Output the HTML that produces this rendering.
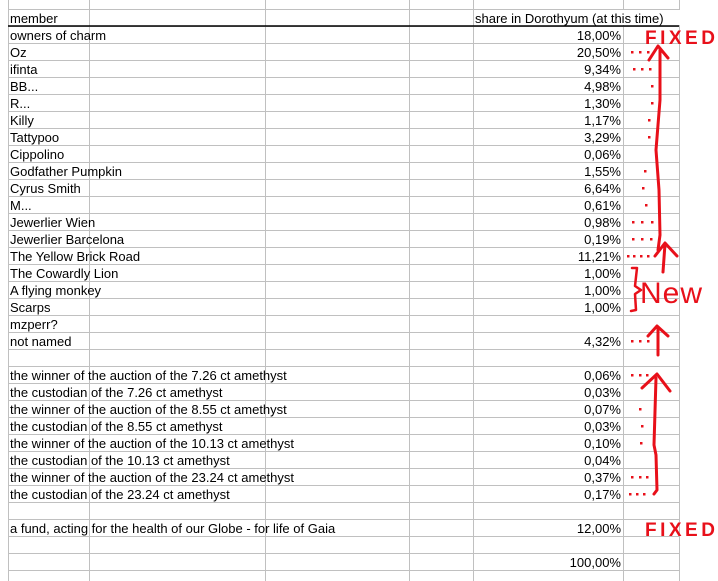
<!DOCTYPE html>
<html><head><meta charset="utf-8"><style>
html,body{margin:0;padding:0;background:#fff;}
svg{display:block;font-family:"Liberation Sans",Arial,sans-serif;}
</style></head><body>
<svg id="sheet" width="718" height="581" viewBox="0 0 718 581" xmlns="http://www.w3.org/2000/svg">
<g id="grid"></g>
<g id="cells" font-size="13" fill="#000"></g>
<g id="notes" stroke="#e8101a" fill="none" stroke-width="3" stroke-linecap="round" stroke-linejoin="round">
  <path d="M658 250 L660 235 L659 190 L656 150 L660 100 L660 50 M649 60 L658 46 L668 58"/>
  <path d="M663 272 L665 244 M655 256 L665 243 L677 256"/>
  <path d="M658 355 L658 328 M648 336 L657 326 L668 336"/>
  <path d="M654 494 L657 490 L656 455 L654 445 L656 378 M642 388 L657 374 L670 391"/>
  <path stroke-width="2.5" d="M632 268 L637 268 L635 286 L641 290 L635 294 L636 310 L631 311"/>
</g>
<g id="dots" fill="#e8101a"></g>
<g fill="#e8101a" font-weight="bold">
  <text x="645" y="44" font-size="19" letter-spacing="3.5">FIXED</text>
  <text x="640" y="303" font-size="30" letter-spacing="1" font-weight="normal">New</text>
  <text x="645" y="536" font-size="19" letter-spacing="3.5">FIXED</text>
</g>
</svg>
<script>
const labels = ["owners of charm","Oz","ifinta","BB...","R...","Killy","Tattypoo","Cippolino","Godfather Pumpkin","Cyrus Smith","M...","Jewerlier Wien","Jewerlier Barcelona","The Yellow Brick Road","The Cowardly Lion","A flying monkey","Scarps","mzperr?","not named","",
"the winner of the auction of the 7.26 ct amethyst","the custodian of the 7.26 ct amethyst","the winner of the auction of the 8.55 ct amethyst","the custodian of the 8.55 ct amethyst","the winner of the auction of the 10.13 ct amethyst","the custodian of the 10.13 ct amethyst","the winner of the auction of the 23.24 ct amethyst","the custodian of the 23.24 ct amethyst","",
"a fund, acting for the health of our Globe - for life of Gaia","",""];
const values = ["18,00%","20,50%","9,34%","4,98%","1,30%","1,17%","3,29%","0,06%","1,55%","6,64%","0,61%","0,98%","0,19%","11,21%","1,00%","1,00%","1,00%","","4,32%","",
"0,06%","0,03%","0,07%","0,03%","0,10%","0,04%","0,37%","0,17%","","12,00%","","100,00%"];
const dotRows = [[1,[632,640,648]],[2,[634,642,650]],[3,[652]],[4,[652]],[5,[649]],[6,[649]],[8,[645]],[9,[643]],[10,[646]],[11,[633,642,652]],[12,[633,642,651]],[13,[628,634,641,648]],[18,[632,640,648]],[20,[632,640,647]],[22,[640]],[23,[642]],[24,[641]],[26,[632,640,647]],[27,[630,637,644]]];
const NS="http://www.w3.org/2000/svg";
const grid=document.getElementById('grid'), cells=document.getElementById('cells'), dots=document.getElementById('dots');
const top0=26, rh=17;
function mk(tag,attrs,parent){const e=document.createElementNS(NS,tag);for(const k in attrs)e.setAttribute(k,attrs[k]);parent.appendChild(e);return e;}
for(let y=9;y<=581;y+=17){
  const l=mk('line',{x1:8,x2:679,y1:y+0.5,y2:y+0.5,stroke:'#c0c0c0'},grid);
  
  
}
[8,89,265,409,473,623,679].forEach(x=>{
  const l=mk('line',{x1:x+0.5,x2:x+0.5,y1:0,y2:581,stroke:'#c0c0c0'},grid);
  
  
});
const hl=mk('line',{x1:8,x2:679,y1:26,y2:26,stroke:'#000','stroke-width':1.5},grid);


const h1=mk('text',{x:10,y:23},cells); h1.textContent='member';


mk('rect',{x:474,y:10,width:208,height:15,fill:'#fff'},cells);
const h3=mk('text',{x:475,y:23},cells); h3.textContent='share in Dorothyum (at this time)';


labels.forEach((t,i)=>{
  if(!t)return;
  const e=mk('text',{x:10,y:top0+rh*i+14},cells); e.textContent=t;
  
  
});
values.forEach((t,i)=>{
  if(!t)return;
  const e=mk('text',{x:621,y:top0+rh*i+14,'text-anchor':'end'},cells); e.textContent=t;
  
  
});
dotRows.forEach(([r,xs])=>{xs.forEach(x=>{
  const d=mk('rect',{x:x-1,y:top0+rh*r+8,width:2.5,height:2.5},dots);
  
  
});});
</script>
</body></html>
